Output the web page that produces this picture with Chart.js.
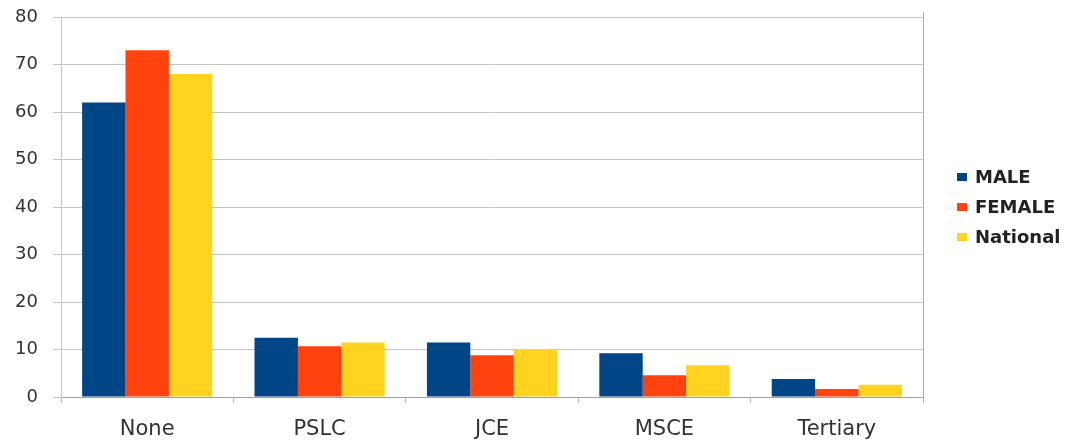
<!DOCTYPE html>
<html>
<head>
<meta charset="utf-8">
<script src="https://cdn.jsdelivr.net/npm/chart.js@4/dist/chart.umd.min.js"></script>
<style>
  html, body { margin: 0; padding: 0; background: #ffffff; }
  #wrap { width: 1068px; height: 442px; position: relative; }
</style>
</head>
<body>
<div id="wrap"><canvas id="c" width="1068" height="442"></canvas></div>
<script>
const categories = ["None", "PSLC", "JCE", "MSCE", "Tertiary"];
const seriesNames = ["MALE", "FEMALE", "National"];
const maleValues = [62, 12.5, 11.5, 9.2, 3.8];
const femaleValues = [73, 10.7, 8.8, 4.6, 1.7];
const nationalValues = [68, 11.5, 10.1, 6.7, 2.6];
const yTicks = [0, 10, 20, 30, 40, 50, 60, 70, 80];
const seriesColors = ["#004586", "#ff420e", "#ffd320"];

const legendPlugin = {
  id: 'sideLegend',
  afterDraw(chart) {
    const ctx = chart.ctx;
    const ca = chart.chartArea;
    const cy = (ca.top + ca.bottom) / 2;
    ctx.save();
    ctx.font = 'bold 18px "DejaVu Sans", sans-serif';
    ctx.textBaseline = 'middle';
    ctx.textAlign = 'left';
    chart.data.datasets.forEach((ds, i) => {
      const y = cy + (i - 1) * 30;
      ctx.fillStyle = ds.backgroundColor;
      ctx.fillRect(ca.right + 34, y - 4, 10, 8);
      ctx.fillStyle = '#222222';
      ctx.fillText(ds.label, ca.right + 52, y + 1);
    });
    // right frame line
    ctx.strokeStyle = '#b0b0b0';
    ctx.lineWidth = 1;
    ctx.beginPath();
    ctx.moveTo(Math.round(ca.right) + 0.5, ca.top - 5);
    ctx.lineTo(Math.round(ca.right) + 0.5, ca.bottom + 6);
    ctx.stroke();
    ctx.restore();
  }
};

new Chart(document.getElementById('c'), {
  type: 'bar',
  data: {
    labels: categories,
    datasets: [
      { label: seriesNames[0], data: maleValues, backgroundColor: seriesColors[0] },
      { label: seriesNames[1], data: femaleValues, backgroundColor: seriesColors[1] },
      { label: seriesNames[2], data: nationalValues, backgroundColor: seriesColors[2] }
    ]
  },
  options: {
    responsive: false,
    animation: false,
    devicePixelRatio: 1,
    layout: { padding: { top: 17, right: 145, bottom: 0, left: 0 } },
    datasets: { bar: { categoryPercentage: 0.755, barPercentage: 1.0, borderWidth: 0 } },
    plugins: {
      legend: { display: false },
      tooltip: { enabled: false }
    },
    scales: {
      x: {
        offset: true,
        grid: { display: true, offset: true, drawOnChartArea: false, drawTicks: true, tickLength: 6, color: '#b8b8b8' },
        border: { display: true, color: '#a0a0a0', width: 1 },
        ticks: { color: '#333333', padding: 14, font: { family: '"DejaVu Sans", sans-serif', size: 21 } },
        afterFit(scale) { scale.height = 45; scale.paddingLeft = 0; scale.paddingRight = 0; }
      },
      y: {
        min: 0,
        max: 80,
        afterBuildTicks(scale) { scale.ticks = yTicks.map(v => ({ value: v })); },
        grid: { color: '#c4c4c4', lineWidth: 1, drawTicks: true, tickLength: 8 },
        border: { display: true, color: '#c8c8c8', width: 1 },
        ticks: { color: '#333333', padding: 15, font: { family: '"DejaVu Sans", sans-serif', size: 18 } },
        afterFit(scale) { scale.width = 61; scale.paddingTop = 0; scale.paddingBottom = 0; }
      }
    }
  },
  plugins: [legendPlugin]
});
</script>
</body>
</html>
